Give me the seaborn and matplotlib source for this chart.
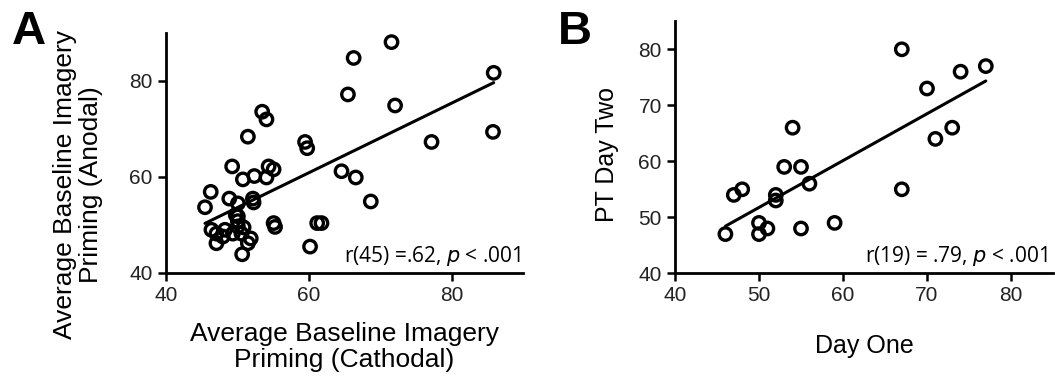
import numpy as np
import pandas as pd
import matplotlib
matplotlib.use("Agg")
import matplotlib.pyplot as plt
import seaborn as sns

# Panel A: Cathodal (x) vs Anodal (y)
cathodal = [71.6, 66.3, 85.9, 65.5, 72.1, 53.5, 54.1, 51.5, 59.5, 59.8, 77.2, 85.8,
            49.3, 54.4, 55.1, 52.4, 50.8, 54.1, 64.6, 66.6, 68.7, 46.3, 45.5, 48.9,
            50.1, 52.2, 52.3, 50.1, 50.1, 50.1, 46.4, 47.1, 48.3, 49.4, 50.9, 47.1,
            51.9, 51.5, 50.7, 55.1, 55.3, 61.2, 61.8, 60.2, 49.8, 48.0, 50.6]
anodal = [88.1, 84.8, 81.7, 77.2, 74.9, 73.6, 72.0, 68.4, 67.3, 66.0, 67.3, 69.4,
          62.2, 62.2, 61.6, 60.2, 59.5, 59.9, 61.2, 59.9, 54.9, 56.9, 53.7, 55.5,
          54.5, 55.5, 54.7, 51.8, 50.8, 49.7, 49.0, 48.2, 49.0, 48.2, 49.5, 46.2,
          47.2, 46.2, 43.9, 50.4, 49.6, 50.4, 50.4, 45.5, 52.1, 47.6, 48.2]

# Panel B: Day One (x) vs PT Day Two (y)
day_one = [67, 77, 74, 70, 71, 73, 54, 53, 55, 56, 67, 47, 48, 52, 52, 46, 50, 50, 51, 55, 59]
day_two = [80, 77, 76, 73, 64, 66, 66, 59, 59, 56, 55, 54, 55, 54, 53, 47, 49, 47, 48, 48, 49]

ticks_a = [40, 60, 80]
ticks_b = [40, 50, 60, 70, 80]

sns.set_style("ticks")
plt.rcParams['font.family'] = ['Liberation Sans', 'DejaVu Sans']
plt.rcParams['text.color'] = 'black'
plt.rcParams['axes.labelcolor'] = 'black'

fig = plt.figure(figsize=(10.55, 3.81), dpi=100)
W, H = 1055, 381
axA = fig.add_axes([165.7 / W, 1 - 273 / H, (523 - 165.7) / W, (273 - 33) / H])
axB = fig.add_axes([675 / W, 1 - 273.3 / H, (1053 - 675) / W, (273.3 - 21.3) / H])

scat = dict(s=80, facecolors='none', edgecolors='black', linewidths=2.4, alpha=1, zorder=3)
line = dict(color='black', lw=2.2)

dfA = pd.DataFrame({"Cathodal": cathodal, "Anodal": anodal})
dfB = pd.DataFrame({"DayOne": day_one, "DayTwo": day_two})

sns.regplot(data=dfA, x="Cathodal", y="Anodal", ax=axA, ci=None,
            scatter_kws=scat, line_kws=line, color='black')
sns.regplot(data=dfB, x="DayOne", y="DayTwo", ax=axB, ci=None,
            scatter_kws=scat, line_kws=line, color='black')

for ax, ticks, lim in [(axA, ticks_a, (40, 90)), (axB, ticks_b, (40, 85))]:
    ax.set_xlim(*lim)
    ax.set_ylim(*lim)
    ax.set_xticks(ticks)
    ax.set_yticks(ticks)
    sns.despine(ax=ax)
    for sp in ['left', 'bottom']:
        ax.spines[sp].set_linewidth(2.0)
        ax.spines[sp].set_color('black')
    ax.tick_params(axis='both', direction='out', length=6, width=1.8,
                   labelsize=15, pad=3.5, colors='black', labelcolor='#222222')

axA.set_xlabel("Average Baseline Imagery\nPriming (Cathodal)", fontsize=19, linespacing=1.1)
axA.set_ylabel("Average Baseline Imagery\nPriming (Anodal)", fontsize=19, linespacing=1.1)
axB.set_xlabel("Day One", fontsize=18)
axB.set_ylabel("PT Day Two", fontsize=18)

# label positions in axes-fraction coordinates (center of label)
axA.xaxis.set_label_coords(0.50, -0.308)
axA.yaxis.set_label_coords(-0.246, 0.367)
axB.xaxis.set_label_coords(0.50, -0.29)
axB.yaxis.set_label_coords(-0.18, 0.47)
for lab in [axA.xaxis.label, axA.yaxis.label, axB.xaxis.label, axB.yaxis.label]:
    lab.set_va('center')

ann_font = ['Open Sans', 'DejaVu Sans']
axA.text(0.995, 0.02, r"r(45) =.62, $\it{p}$ < .001", transform=axA.transAxes,
         ha='right', va='bottom', fontsize=15, family=ann_font)
axB.text(0.985, 0.02, r"r(19) = .79, $\it{p}$ < .001", transform=axB.transAxes,
         ha='right', va='bottom', fontsize=15, family=ann_font)

fig.text(12 / W, 1 - 44 / H, "A", fontsize=34, fontweight='bold', ha='left', va='baseline')
fig.text(558 / W, 1 - 44 / H, "B", fontsize=34, fontweight='bold', ha='left', va='baseline')

fig.savefig("out.png", dpi=100)
